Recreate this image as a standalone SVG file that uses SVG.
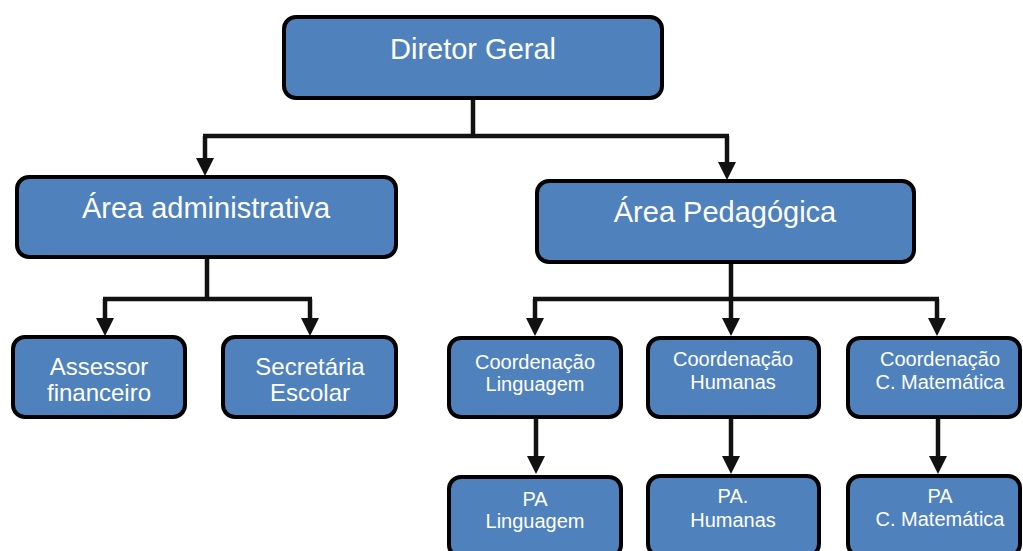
<svg xmlns="http://www.w3.org/2000/svg" width="1023" height="551" viewBox="0 0 1023 551">
<style>
.box{fill:#4F81BD;stroke:#000;stroke-width:4;}
.t{fill:#fff;font-family:"Liberation Sans",Arial,sans-serif;text-anchor:middle;}
.big{font-size:29px;}
.mid{font-size:24px;}
.sm{font-size:20px;}
.c{fill:none;stroke:#111;stroke-width:4.5;}
</style>
<defs>
<marker id="ah" viewBox="0 0 18 18" refX="6" refY="9" markerWidth="18" markerHeight="18" markerUnits="userSpaceOnUse" orient="auto">
<path d="M0,0 L18,9 L0,18 Z" fill="#111"/>
</marker>
</defs>
<rect width="1023" height="551" fill="#fff"/>
<g id="connectors">
<path class="c" d="M473,98 V136 M203,136 H729"/>
<path class="c" d="M205,136 V164" marker-end="url(#ah)"/>
<path class="c" d="M727,136 V168" marker-end="url(#ah)"/>
<path class="c" d="M207,257 V299 M103,299 H312"/>
<path class="c" d="M105,299 V324" marker-end="url(#ah)"/>
<path class="c" d="M310,299 V324" marker-end="url(#ah)"/>
<path class="c" d="M731,262 V299 M533,299 H939"/>
<path class="c" d="M535,299 V324" marker-end="url(#ah)"/>
<path class="c" d="M731,299 V324" marker-end="url(#ah)"/>
<path class="c" d="M937,299 V324" marker-end="url(#ah)"/>
<path class="c" d="M536,417 V462" marker-end="url(#ah)"/>
<path class="c" d="M731,417 V462" marker-end="url(#ah)"/>
<path class="c" d="M938,417 V462" marker-end="url(#ah)"/>
</g>
<g id="diretor">
<rect class="box" x="284" y="17" width="378" height="81" rx="12"/>
<text class="t big" x="473" y="59">Diretor Geral</text>
</g>
<g id="area-admin">
<rect class="box" x="17" y="177" width="379" height="80" rx="12"/>
<text class="t big" x="206" y="218">Área administrativa</text>
</g>
<g id="area-ped">
<rect class="box" x="537" y="181" width="377" height="81" rx="12"/>
<text class="t big" x="725" y="222">Área Pedagógica</text>
</g>
<g id="assessor">
<rect class="box" x="13" y="337" width="172" height="80" rx="12"/>
<text class="t mid" x="99" y="375">Assessor</text>
<text class="t mid" x="99" y="401">financeiro</text>
</g>
<g id="secretaria">
<rect class="box" x="223" y="337" width="173" height="80" rx="12"/>
<text class="t mid" x="310" y="375">Secretária</text>
<text class="t mid" x="310" y="401">Escolar</text>
</g>
<g id="coord-ling">
<rect class="box" x="449" y="338" width="172" height="79" rx="12"/>
<text class="t sm" x="535" y="369">Coordenação</text>
<text class="t sm" x="535" y="391">Linguagem</text>
</g>
<g id="coord-hum">
<rect class="box" x="648" y="338" width="171" height="79" rx="12"/>
<text class="t sm" x="733" y="366">Coordenação</text>
<text class="t sm" x="733" y="389">Humanas</text>
</g>
<g id="coord-mat">
<rect class="box" x="848" y="338" width="172" height="79" rx="12"/>
<text class="t sm" x="940" y="366">Coordenação</text>
<text class="t sm" x="940" y="389">C. Matemática</text>
</g>
<g id="pa-ling">
<rect class="box" x="449" y="477" width="172" height="80" rx="12"/>
<text class="t sm" x="535" y="506">PA</text>
<text class="t sm" x="535" y="528">Linguagem</text>
</g>
<g id="pa-hum">
<rect class="box" x="648" y="476" width="171" height="80" rx="12"/>
<text class="t sm" x="733" y="503">PA.</text>
<text class="t sm" x="733" y="527">Humanas</text>
</g>
<g id="pa-mat">
<rect class="box" x="848" y="476" width="172" height="80" rx="12"/>
<text class="t sm" x="940" y="503">PA</text>
<text class="t sm" x="940" y="526">C. Matemática</text>
</g>
</svg>
